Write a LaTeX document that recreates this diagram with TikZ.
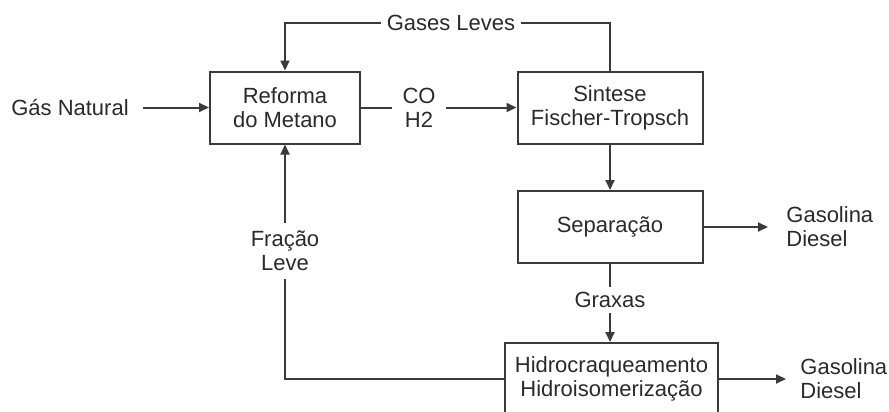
\documentclass[tikz,border=0pt]{standalone}
\usepackage{fontspec}
\setmainfont{Liberation Sans}
\usetikzlibrary{arrows.meta}
\definecolor{linegray}{HTML}{3A3A3A}
\definecolor{textgray}{HTML}{2A2A2A}
\tikzset{
  unitbox/.style={draw=linegray,line width=1pt,minimum height=36pt,align=center,text=textgray},
  flowlabel/.style={align=center,text=textgray,inner sep=2.5pt},
  flow/.style={draw=linegray,line width=1pt},
  feed/.style={flow,-{Triangle[length=5pt,width=4.5pt]}}
}
\begin{document}
\begin{tikzpicture}[x=0.5pt,y=-0.5pt,font=\fontsize{11}{12}\selectfont]
\useasboundingbox (0,0) rectangle (889,412);
\node[unitbox,minimum width=75pt] (reforma) at (285,107.5) {Reforma\\do Metano};
\node[unitbox,minimum width=92.5pt] (sintese) at (610,107.5) {Sintese\\Fischer-Tropsch};
\node[unitbox,minimum width=92.5pt] (separacao) at (610,227) {Separação};
\node[unitbox,minimum width=106.5pt] (hidro) at (611.5,379) {Hidrocraqueamento\\Hidroisomerização};
\node[flowlabel,inner xsep=7pt] (gas) at (70,107.5) {Gás Natural};
\node[flowlabel] (gases) at (451,23) {Gases Leves};
\node[flowlabel,inner xsep=5pt] (coh2) at (419,107.5) {CO\\H2};
\node[flowlabel,inner ysep=4pt] (fracao) at (285,251) {Fração\\Leve};
\node[flowlabel] (graxas) at (610,300) {Graxas};
\node[flowlabel,align=left,anchor=west,inner xsep=9pt] (prod1) at (768,227) {Gasolina\\Diesel};
\node[flowlabel,align=left,anchor=west,inner xsep=7pt] (prod2) at (786,379) {Gasolina\\Diesel};
\draw[feed] (gas) -- (reforma);
\draw[flow] (sintese.north) |- (gases.east);
\draw[feed] (gases.west) -| (reforma.north);
\draw[flow] (reforma.east) -- (coh2.west);
\draw[feed] (coh2.east) -- (sintese.west);
\draw[feed] (sintese) -- (separacao);
\draw[feed] (separacao.east) -- (prod1.west);
\draw[flow] (separacao.south) -- (graxas.north);
\draw[feed] (graxas.south) -- (hidro.north -| graxas.south);
\draw[feed] (hidro.east) -- (prod2.west);
\draw[flow] (hidro.west) -| (fracao.south);
\draw[feed] (fracao.north) -- (reforma.south);
\end{tikzpicture}
\end{document}
